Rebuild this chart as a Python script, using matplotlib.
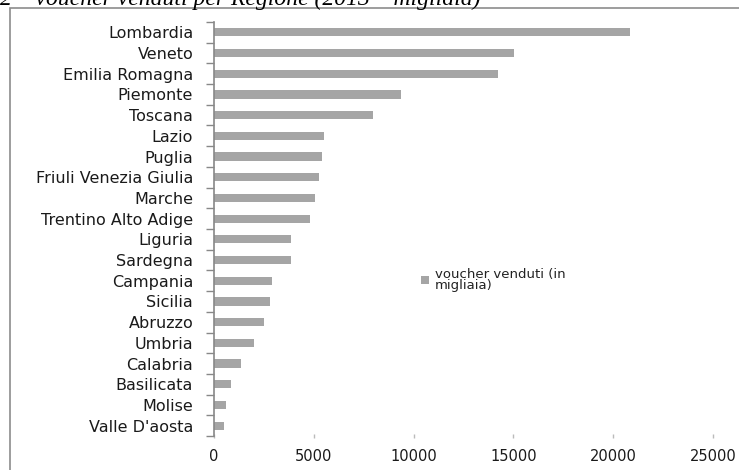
import matplotlib.pyplot as plt
from matplotlib.patches import Rectangle

# voucher venduti per regione (migliaia)
regioni = ["Lombardia", "Veneto", "Emilia Romagna", "Piemonte", "Toscana",
           "Lazio", "Puglia", "Friuli Venezia Giulia", "Marche",
           "Trentino Alto Adige", "Liguria", "Sardegna", "Campania",
           "Sicilia", "Abruzzo", "Umbria", "Calabria", "Basilicata",
           "Molise", "Valle D'aosta"]
voucher = [20850, 15050, 14250, 9380, 7950,
           5490, 5430, 5280, 5050,
           4820, 3850, 3850, 2930,
           2830, 2480, 2020, 1350, 870,
           580, 480]
x_ticks = [0, 5000, 10000, 15000, 20000, 25000]

fig = plt.figure(figsize=(7.39, 4.70), dpi=100)

# chart border (cut by the page edge on the right and bottom)
fig.patches.append(Rectangle((10 / 739, -0.1), 1.1, 1 - 8 / 470 + 0.1,
                             transform=fig.transFigure, fill=False,
                             edgecolor="#8c8c8c", linewidth=1.2))

# caption of the page, half cut off at the top
fig.text(0.0, 1 - 5 / 470, "2 \u2013 voucher venduti per Regione (2013 \u2013 migliaia)",
         family="Liberation Serif", style="italic", fontsize=17,
         ha="left", va="baseline", color="black")

ax = fig.add_axes([214 / 739, 1 - 436 / 470, (713 - 214) / 739, (436 - 22) / 470])

pos = list(range(len(regioni)))
ax.barh(pos, voucher, height=0.4, color="#a5a5a5",
        label="voucher venduti (in\nmigliaia)")
ax.set_ylim(len(regioni) - 0.5, -0.5)
ax.set_xlim(0, 25000)

# category labels between tick marks (Excel style)
ax.set_yticks([p - 0.5 for p in pos] + [len(regioni) - 0.5])
ax.set_yticklabels([])
ax.set_yticks(pos, minor=True)
ax.set_yticklabels(regioni, minor=True, fontsize=11.5, color="#1a1a1a")
ax.tick_params(axis="y", which="major", length=6, width=1, color="#888888",
               direction="out")
ax.tick_params(axis="y", which="minor", length=0, pad=15)

ax.set_xticks(x_ticks)
ax.set_xticklabels([str(v) for v in x_ticks], fontsize=10.5, color="#1a1a1a")
ax.tick_params(axis="x", length=3, width=1, color="#bbbbbb", direction="inout", pad=8)

for s in ["top", "right", "bottom"]:
    ax.spines[s].set_visible(False)
ax.spines["left"].set_color("#888888")
ax.spines["left"].set_linewidth(1.2)

leg = ax.legend(loc="upper left", bbox_to_anchor=((414 - 214) / 499, 1 - (261 - 22) / 414),
                frameon=False, fontsize=9.5, handlelength=0.6, handleheight=0.6,
                handletextpad=0.5, borderpad=0, labelcolor="#222222")
for t in leg.get_texts():
    t.set_linespacing(0.85)

fig.savefig("out.png", dpi=100)
